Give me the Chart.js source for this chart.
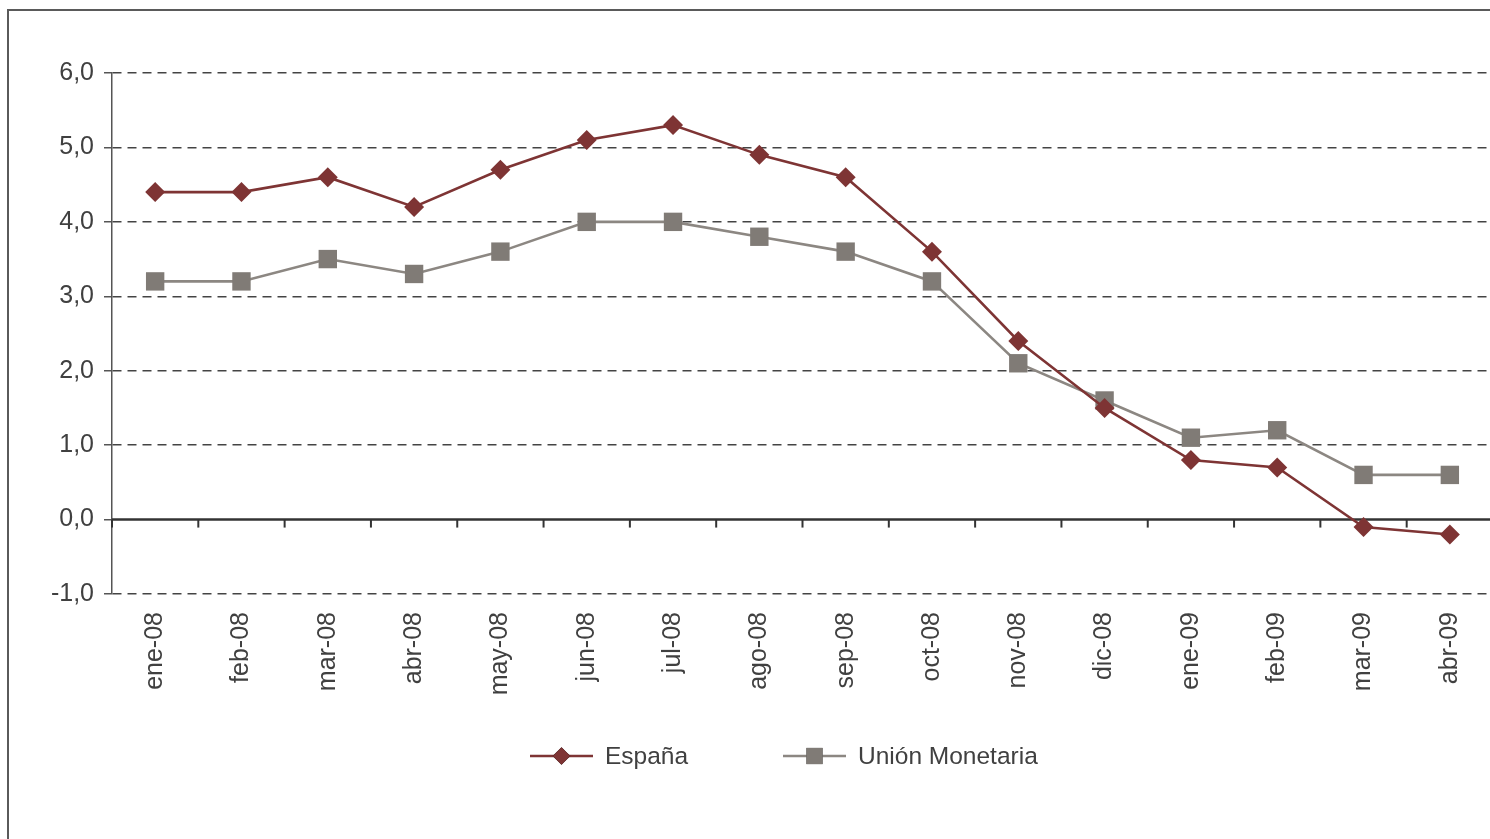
<!DOCTYPE html>
<html>
<head>
<meta charset="utf-8">
<script src="https://cdn.jsdelivr.net/npm/chart.js@4"></script>
<style>
  html, body { margin: 0; padding: 0; background: #fff; overflow: hidden; width: 1490px; height: 839px; }
  #frame { position: absolute; left: 7px; top: 9px; width: 1600px; height: 1000px; border: 2px solid #5a5a5a; box-sizing: border-box; }
  #wrap { position: absolute; left: 0; top: 0; width: 1506px; height: 839px; }
</style>
</head>
<body>
<div id="frame"></div>
<div id="wrap"><canvas id="c" width="1506" height="839"></canvas></div>
<script>
const categories = ["ene-08","feb-08","mar-08","abr-08","may-08","jun-08","jul-08","ago-08","sep-08","oct-08","nov-08","dic-08","ene-09","feb-09","mar-09","abr-09"];
const espana = [4.4, 4.4, 4.6, 4.2, 4.7, 5.1, 5.3, 4.9, 4.6, 3.6, 2.4, 1.5, 0.8, 0.7, -0.1, -0.2];
const unionMonetaria = [3.2, 3.2, 3.5, 3.3, 3.6, 4.0, 4.0, 3.8, 3.6, 3.2, 2.1, 1.6, 1.1, 1.2, 0.6, 0.6];
const seriesNames = ["España", "Unión Monetaria"];
const yMin = -1, yMax = 6, yStep = 1;

const FONT = "'Liberation Sans', Arial, sans-serif";
const TEXT = '#404040';

const zeroLinePlugin = {
  id: 'zeroLine',
  beforeDatasetsDraw(chart) {
    const {ctx, scales: {x, y}, chartArea} = chart;
    const y0 = y.getPixelForValue(0);
    const step = x.getPixelForValue(1) - x.getPixelForValue(0);
    ctx.save();
    ctx.strokeStyle = '#333';
    ctx.lineWidth = 2.5;
    ctx.beginPath();
    ctx.moveTo(chartArea.left, y0);
    ctx.lineTo(chartArea.right, y0);
    ctx.stroke();
    ctx.lineWidth = 2;
    for (let i = 0; i <= categories.length; i++) {
      const px = x.getPixelForValue(0) - step / 2 + i * step;
      ctx.beginPath();
      ctx.moveTo(px, y0);
      ctx.lineTo(px, y0 + 8);
      ctx.stroke();
    }
    ctx.restore();
  }
};

const legendPlugin = {
  id: 'customLegend',
  afterDraw(chart) {
    const {ctx} = chart;
    const items = [
      {ds: chart.data.datasets[0], x: 530},
      {ds: chart.data.datasets[1], x: 783}
    ];
    const ly = 756;
    ctx.save();
    items.forEach(it => {
      ctx.strokeStyle = it.ds.borderColor;
      ctx.lineWidth = it.ds.borderWidth;
      ctx.beginPath();
      ctx.moveTo(it.x, ly);
      ctx.lineTo(it.x + 63, ly);
      ctx.stroke();
      Chart.helpers.drawPoint(ctx, {pointStyle: it.ds.pointStyle, radius: it.ds.pointRadius * 0.88, borderWidth: 0, rotation: 0}, it.x + 31.5, ly);
      ctx.fillStyle = it.ds.pointBackgroundColor;
      ctx.fill();
      ctx.fillStyle = TEXT;
      ctx.font = '24.5px ' + FONT;
      ctx.textBaseline = 'middle';
      ctx.textAlign = 'left';
      ctx.fillText(it.ds.label, it.x + 75, ly + 1);
    });
    ctx.restore();
  }
};

new Chart(document.getElementById('c'), {
  type: 'line',
  data: {
    labels: categories,
    datasets: [
      {
        label: seriesNames[0], data: espana,
        borderColor: '#7e3434', backgroundColor: '#7e3434',
        pointBackgroundColor: '#7e3434', pointBorderColor: '#7e3434', pointBorderWidth: 0,
        borderWidth: 2.6, pointStyle: 'rectRot', pointRadius: 10, tension: 0
      },
      {
        label: seriesNames[1], data: unionMonetaria,
        borderColor: '#8c8782', backgroundColor: '#807b76',
        pointBackgroundColor: '#807b76', pointBorderColor: '#807b76', pointBorderWidth: 0,
        borderWidth: 2.6, pointStyle: 'rect', pointRadius: 13, tension: 0
      }
    ]
  },
  options: {
    responsive: false,
    animation: false,
    layout: { padding: { left: 0, right: 0, top: 73, bottom: 0 } },
    plugins: { legend: { display: false }, tooltip: { enabled: false } },
    scales: {
      x: {
        offset: true,
        grid: { display: false, drawTicks: false },
        border: { display: false },
        ticks: {
          minRotation: 90, maxRotation: 90, padding: 18,
          color: TEXT, font: { family: FONT, size: 25 }
        },
        afterFit(scale) { scale.height = 839 - 594; }
      },
      y: {
        min: yMin, max: yMax,
        grid: {
          color: ctx => (ctx.tick && ctx.tick.value === 0) ? 'rgba(0,0,0,0)' : '#444',
          lineWidth: 1.5,
          tickColor: '#555', tickLength: 8, tickWidth: 1.5
        },
        border: { display: true, color: '#555', width: 1.5, dash: [9, 6] },
        ticks: {
          stepSize: yStep, padding: 10, color: TEXT,
          font: { family: FONT, size: 25 },
          callback: v => v.toFixed(1).replace('.', ',')
        },
        afterFit(scale) { scale.width = 112; }
      }
    }
  },
  plugins: [zeroLinePlugin, legendPlugin]
});
</script>
</body>
</html>
